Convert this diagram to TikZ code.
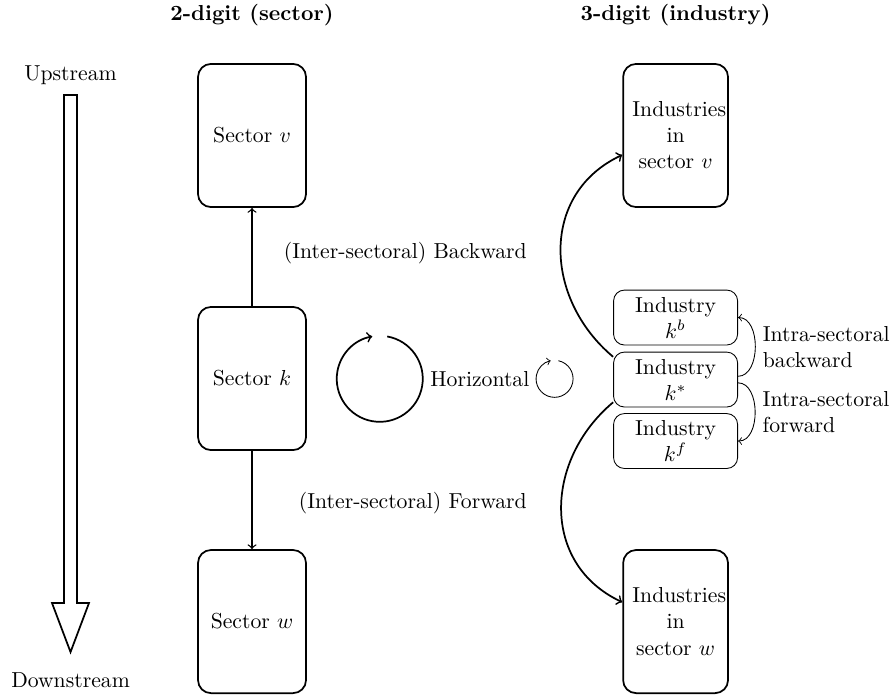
\documentclass[tikz,border=0pt]{standalone}
\usetikzlibrary{positioning}
\begin{document}
\begin{tikzpicture}[every node/.style={font=\normalsize},
  sectorbox/.style={draw, thick, rounded corners=6pt, minimum width=1.75cm, minimum height=2.32cm},
  industrybox/.style={draw, thick, rounded corners=6pt, minimum width=1.70cm, minimum height=2.32cm,
    text width=1.40cm, align=center},
  kbox/.style={draw, rounded corners=5pt, minimum width=2.01cm, minimum height=0.89cm, align=center, inner sep=1pt}]
  \useasboundingbox (0,0) rectangle (14.52,-11.30);

  % headers
  \node[font=\bfseries] (hsector) at (4.084,-0.243) {2-digit (sector)};
  \node[font=\bfseries] (hindustry) at (10.948,-0.243) {3-digit (industry)};

  % upstream / downstream arrow
  \node (up) at (1.143,-1.216) {Upstream};
  \node (down) at (1.143,-11.02) {Downstream};
  \draw[thick] (1.037,-1.540) -- (1.248,-1.540) -- (1.248,-9.773) -- (1.442,-9.773)
    -- (1.143,-10.567) -- (0.843,-9.773) -- (1.037,-9.773) -- cycle;

  % sectors
  \node[sectorbox] (sv) at (4.084,-2.196) {Sector \(v\)};
  \node[sectorbox] (sk) at (4.084,-6.134) {Sector \(k\)};
  \node[sectorbox] (sw) at (4.084,-10.073) {Sector \(w\)};

  \draw[semithick,->] (sk) -- (sv);
  \draw[semithick,->] (sk) -- (sw);
  \node[anchor=east] (bwlabel) at (8.66,-4.10) {(Inter-sectoral) Backward};
  \node[anchor=east] (fwlabel) at (8.66,-8.15) {(Inter-sectoral) Forward};

  % horizontal loops
  \coordinate (loop) at (6.154,-6.139);
  \draw[thick,->] (loop) ++(80:0.697) arc[start angle=80, end angle=-260, radius=0.697];
  \node[right] (horiz) at (6.851,-6.139) {Horizontal};
  \coordinate (miniloop) at (8.987,-6.139);
  \draw[->] (miniloop) ++(78:0.30) arc[start angle=78, end angle=-258, radius=0.30];

  % industries
  \node[industrybox] (indv) at (10.948,-2.196) {Industries in sector \(v\)};
  \node[industrybox] (indw) at (10.948,-10.073) {Industries in sector \(w\)};
  \node[kbox] (kb) at (10.948,-5.146) {Industry\\\(k^b\)};
  \node[kbox] (kstar) at (10.948,-6.151) {Industry\\\(k^*\)};
  \node[kbox] (kf) at (10.948,-7.147) {Industry\\\(k^f\)};

  \draw[thick,->] (kstar.160) to[out=140, in=205, looseness=1.15] (indv.200);
  \draw[thick,->] (kstar.200) to[out=220, in=155, looseness=1.15] (indw.160);

  \draw[->] (kstar.3) to[out=0, in=0] node[midway, right, align=left] (bwintra) {Intra-sectoral\\backward} (kb.east);
  \draw[->] (kstar.-3) to[out=0, in=0] node[midway, right, align=left] (fwintra) {Intra-sectoral\\forward} (kf.east);
\end{tikzpicture}
\end{document}
